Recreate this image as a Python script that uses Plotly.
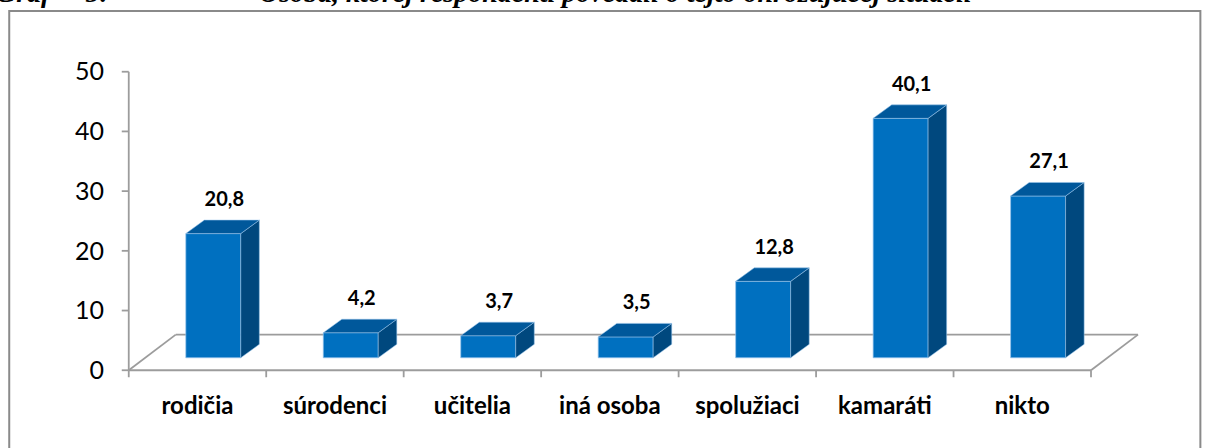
import plotly.graph_objects as go

# ---- data ----
categories = ["rodičia", "súrodenci", "učitelia", "iná osoba", "spolužiaci", "kamaráti", "nikto"]
values = [20.8, 4.2, 3.7, 3.5, 12.8, 40.1, 27.1]
y_ticks = [0, 10, 20, 30, 40, 50]

title_prefix = "Graf\u00a0\u00a0\u00a0\u00a0\u00a05:"
title_text = "Osoba, ktorej respondenti povedali o tejto ohrozujúcej situácii"

# ---- geometry of the pseudo-3D frame (axis units) ----
W, H = 1208, 448
PX_X, X0 = 137.45, 128.5      # px per category slot, px of x = 0
PX_Y, Y0 = 5.976, 370.5       # px per value unit, px of y = 0
X_RANGE = [-0.1, 7.4]
Y_RANGE = [-1.8, 52.8]

FLOOR_DX, FLOOR_DY = 0.342, 5.97   # depth of the floor
FRONT_DX, FRONT_DY = 0.115, 2.09   # bar front face pushed back into the floor
BAR_W = 0.40
DEPTH_DX, DEPTH_DY = 0.135, 2.26   # bar thickness

C_FRONT, C_TOP, C_SIDE = "#0070C0", "#00589B", "#00487E"
C_EDGE = "rgba(150,195,235,0.9)"
C_AXIS = "#9C9C9C"

left = X0 + X_RANGE[0] * PX_X
right = X0 + X_RANGE[1] * PX_X
bottom = Y0 - Y_RANGE[0] * PX_Y
top = Y0 - Y_RANGE[1] * PX_Y
margin = dict(l=left, r=W - right, t=top, b=H - bottom, pad=0)

n = len(categories)
fig = go.Figure()

# front faces of the bars
centers = [i + 0.5 + FRONT_DX for i in range(n)]
fig.add_trace(go.Bar(
    x=centers, y=values, base=[FRONT_DY] * n, width=BAR_W,
    marker=dict(color=C_FRONT, line=dict(color=C_EDGE, width=0.8)),
    hoverinfo="skip", showlegend=False,
))

# top and side faces
top_x, top_y, side_x, side_y = [], [], [], []
for c, v in zip(centers, values):
    xl, xr = c - BAR_W / 2, c + BAR_W / 2
    yt = FRONT_DY + v
    top_x += [xl, xr, xr + DEPTH_DX, xl + DEPTH_DX, xl, None]
    top_y += [yt, yt, yt + DEPTH_DY, yt + DEPTH_DY, yt, None]
    side_x += [xr, xr, xr + DEPTH_DX, xr + DEPTH_DX, xr, None]
    side_y += [FRONT_DY, yt, yt + DEPTH_DY, FRONT_DY + DEPTH_DY, FRONT_DY, None]

fig.add_trace(go.Scatter(x=side_x, y=side_y, mode="lines", fill="toself",
                         fillcolor=C_SIDE, line=dict(color=C_EDGE, width=0.6),
                         hoverinfo="skip", showlegend=False))
fig.add_trace(go.Scatter(x=top_x, y=top_y, mode="lines", fill="toself",
                         fillcolor=C_TOP, line=dict(color=C_EDGE, width=0.6),
                         hoverinfo="skip", showlegend=False))

# value labels
fig.add_trace(go.Scatter(
    x=[c + 0.08 for c in centers],
    y=[FRONT_DY + v + 5.5 for v in values],
    mode="text",
    text=[f"{v:.1f}".replace(".", ",") for v in values],
    textposition="middle center",
    textfont=dict(family="Lato", size=20, color="black", weight="bold"),
    hoverinfo="skip", showlegend=False, cliponaxis=False,
))

# floor, axis lines and tick marks (drawn beneath the bars)
line = dict(color=C_AXIS, width=1.8)
shapes = [
    dict(type="line", x0=0, y0=0, x1=n, y1=0),
    dict(type="line", x0=FLOOR_DX, y0=FLOOR_DY, x1=n + FLOOR_DX, y1=FLOOR_DY),
    dict(type="line", x0=0, y0=0, x1=FLOOR_DX, y1=FLOOR_DY),
    dict(type="line", x0=n, y0=0, x1=n + FLOOR_DX, y1=FLOOR_DY),
    dict(type="line", x0=0, y0=0, x1=0, y1=y_ticks[-1]),
]
for t in y_ticks:
    shapes.append(dict(type="line", x0=-7 / PX_X, y0=t, x1=0, y1=t))
for i in range(n + 1):
    shapes.append(dict(type="line", x0=i, y0=0, x1=i, y1=-7 / PX_Y))
for s in shapes:
    s.update(xref="x", yref="y", line=line, layer="below")

# outer frame
pw, ph = right - left, bottom - top
def px_to_paper(px, py):
    return (px - left) / pw, (bottom - py) / ph
fx0, fy0 = px_to_paper(9, 11)
fx1, fy1 = px_to_paper(1200, 470)
shapes.append(dict(type="rect", xref="paper", yref="paper",
                   x0=fx0, y0=fy1, x1=fx1, y1=fy0,
                   line=dict(color="#8A8A8A", width=2), layer="below"))

# caption along the top edge of the page
cap_y = (bottom - 10) / ph
cap_font = dict(family="Liberation Serif", size=28, color="black",
                weight="bold", style="italic")
annotations = [
    dict(text=title_prefix, xref="paper", yref="paper",
         x=(-6 - left) / pw, y=cap_y, xanchor="left", yanchor="bottom",
         showarrow=False, font=cap_font),
    dict(text=title_text, xref="paper", yref="paper",
         x=(257 - left) / pw, y=cap_y, xanchor="left", yanchor="bottom",
         showarrow=False, font=cap_font),
]

fig.update_layout(
    width=W, height=H, margin=margin,
    paper_bgcolor="white", plot_bgcolor="white",
    shapes=shapes, annotations=annotations,
    xaxis=dict(range=X_RANGE, showgrid=False, zeroline=False, showline=False,
               tickmode="array", tickvals=[i + 0.5 for i in range(n)], ticktext=categories,
               ticks="", ticklabelstandoff=8,
               tickfont=dict(family="Lato", size=24, color="black", weight="bold")),
    yaxis=dict(range=Y_RANGE, showgrid=False, zeroline=False, showline=False,
               tickmode="array", tickvals=y_ticks, ticks="", ticklabelstandoff=10,
               tickfont=dict(family="Lato", size=25, color="black")),
    showlegend=False,
)

fig.write_html("out.html")
